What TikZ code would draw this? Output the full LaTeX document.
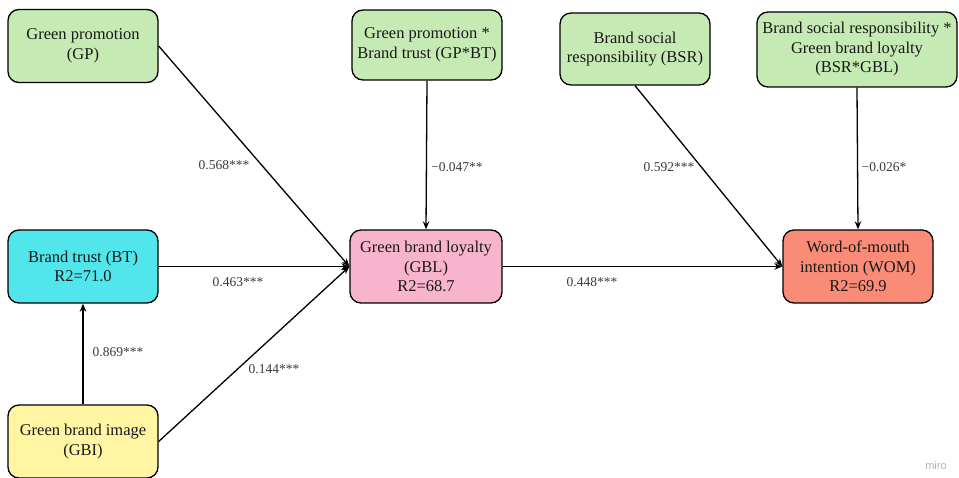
\documentclass[tikz,border=0pt]{standalone}
\usepackage{fontspec}
\setmainfont{Liberation Serif}
\setsansfont{Liberation Sans}
\definecolor{GPgreen}{HTML}{C6EAB3}
\definecolor{BTcyan}{HTML}{50E6EC}
\definecolor{GBLpink}{HTML}{F9B4CD}
\definecolor{WOMsalmon}{HTML}{FA8B77}
\definecolor{GBIyellow}{HTML}{FFF5A2}
\definecolor{coefgray}{HTML}{3A3A3A}
\usetikzlibrary{arrows.meta, positioning}

\begin{document}
\begin{tikzpicture}[x=1pt, y=-1pt,
   construct/.style={draw, line width=1.3pt, rounded corners=11pt, align=center,
      minimum width=150pt, minimum height=73pt, inner sep=2pt, text=black!90,
      font=\rmfamily\fontsize{16.5}{19.5}\selectfont},
   effect/.style={-{Stealth[length=8pt, width=6.5pt]}, line width=1.3pt},
   coef/.style={font=\rmfamily\fontsize{13.5}{15}\selectfont, text=coefgray}]
      \useasboundingbox (0,0) rectangle (959,478);
      % Constructs
      \node[construct, fill=GPgreen] (GP) at (83,46) {Green promotion\\(GP)};
      \node[construct, fill=GPgreen, minimum height=70pt] (GPBT) at (427,45)
         {Green promotion *\\Brand trust (GP*BT)};
      \node[construct, fill=GPgreen, minimum height=72pt] (BSR) at (635,49)
         {Brand social\\responsibility (BSR)};
      \node[construct, fill=GPgreen, minimum width=200pt, minimum height=75pt] (BSRGBL) at (857,49.5)
         {Brand social responsibility *\\Green brand loyalty\\(BSR*GBL)};
      \node[construct, fill=BTcyan] (BT) at (83,266.5) {Brand trust (BT)\\R2=71.0};
      \node[construct, fill=GBLpink, minimum width=152pt] (GBL) at (426,266.5)
         {Green brand loyalty\\(GBL)\\R2=68.7};
      \node[construct, fill=WOMsalmon] (WOM) at (858,266.5)
         {Word-of-mouth\\intention (WOM)\\R2=69.9};
      \node[construct, fill=GBIyellow] (GBI) at (83,441.5) {Green brand image\\(GBI)};
      % Paths into GBL
      \draw[effect] (GP.east) -- (GBL.west);
      \draw[effect] (BT.east) -- (GBL.west);
      \draw[effect] (GBI.east) -- (GBL.west);
      \draw[effect] (GPBT.south) -- (GBL.north);
      \draw[effect] (GBI.north) -- (BT.south);
      % Paths into WOM
      \draw[effect] (GBL.east) -- (WOM.west);
      \draw[effect] (BSR.south) -- (WOM.west);
      \draw[effect] (BSRGBL.south) -- (WOM.north);
      % Path coefficients
      \node[coef] (cGP) at (224,165) {0.568***};
      \node[coef] (cGPBT) at (457,167) {−0.047**};
      \node[coef] (cBSR) at (669,167) {0.592***};
      \node[coef] (cBSRGBL) at (884,167) {−0.026*};
      \node[coef] (cBT) at (238,282) {0.463***};
      \node[coef] (cGBL) at (592,282) {0.448***};
      \node[coef] (cGBI) at (118,352) {0.869***};
      \node[coef] (cGBIGBL) at (274,369) {0.144***};
      % Watermark
      \node[font=\sffamily\fontsize{11}{13}\selectfont, text=black!30] (miro) at (936,466) {miro};
   \end{tikzpicture}
\end{document}
